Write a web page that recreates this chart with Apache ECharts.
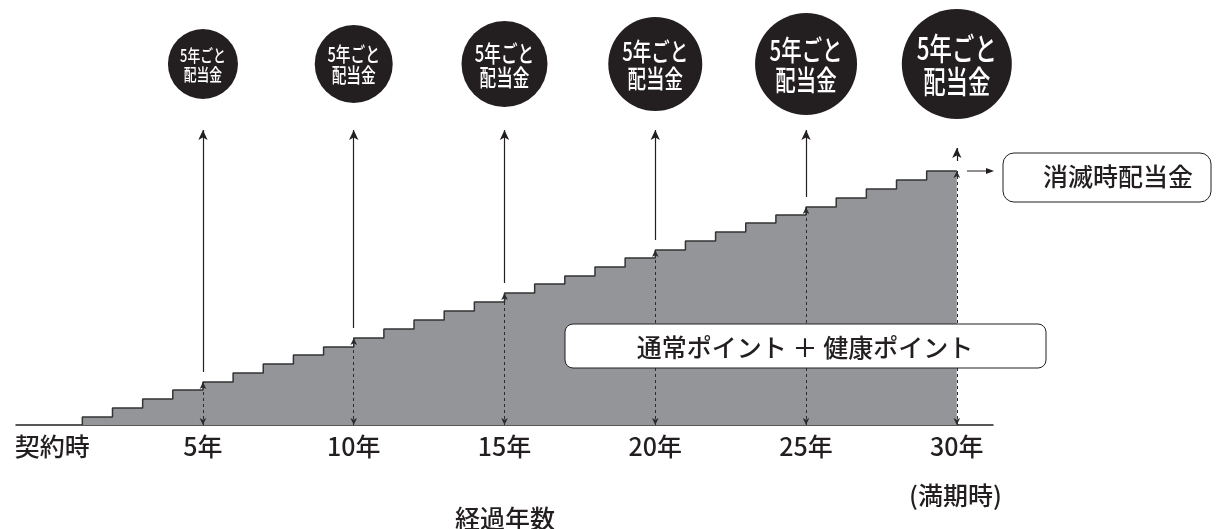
<!DOCTYPE html>
<html>
<head>
<meta charset="utf-8">
<script src="https://cdn.jsdelivr.net/npm/echarts@6/dist/echarts.min.js"></script>
<style>
html,body{margin:0;padding:0;background:#fff;}
#c{width:1222px;height:529px;}
</style>
</head>
<body>
<div id="c"></div>
<script>
// ---- data ----
const stepYears = [1,2,3,4,5,6,7,8,9,10,11,12,13,14,15,16,17,18,19,20,21,22,23,24,25,26,27,28,29];
const stepValues = [8,17,26,35,43,52,61,70,78,87,96,105,114,123,132,141,149,158,167,175,184,193,202,210,218,227,236,245,254];
const endYear = 30;
const tickYears = [0,5,10,15,20,25,30];
const tickLabels = ['契約時','5年','10年','15年','20年','25年','30年'];
const dividendYears = [5,10,15,20,25,30];
const badgeLevel = 361;
const badgeText = '5年ごと\n配当金';
const xAxisName = '経過年数';
const maturityNote = '(満期時)';
const terminalLabel = '消滅時配当金';
const pointsLabel = '通常ポイント ＋ 健康ポイント';

// ---- derived ----
function valueAt(year){
  let v = 0;
  for (let i = 0; i < stepYears.length; i++) if (stepYears[i] <= year) v = stepValues[i];
  return v;
}
const lineData = [[stepYears[0], 0]];
stepYears.forEach((y, i) => lineData.push([y, stepValues[i]]));
lineData.push([endYear, stepValues[stepValues.length - 1]]);

const FONT = '"Noto Sans CJK JP", "Noto Sans", sans-serif';
const INK = '#231f20';

const dashedLines = dividendYears.map(y => [
  {coord: [y, 0]}, {coord: [y, valueAt(y)]}
]);
const solidArrows = dividendYears.map(y => [
  {coord: [y, valueAt(y) + 10]}, {coord: [y, y === endYear ? 277 : 295]}
]);

const chart = echarts.init(document.getElementById('c'));
chart.setOption({
  animation: false,
  grid: {left: 16, right: 229, top: 0, bottom: 104},
  xAxis: {
    type: 'value', min: -1.2, max: 31.2,
    splitLine: {show: false},
    axisTick: {show: false},
    axisLine: {show: true, lineStyle: {color: INK, width: 1.5}},
    axisLabel: {
      customValues: tickYears,
      margin: 9,
      color: INK,
      fontSize: 25,
      fontWeight: 500,
      fontFamily: FONT,
      formatter: v => tickLabels[tickYears.indexOf(v)]
    }
  },
  yAxis: {type: 'value', min: 0, max: 425, show: false, splitLine: {show: false}},
  series: [
    {
      type: 'line',
      step: 'end',
      data: lineData,
      symbol: 'none',
      lineStyle: {color: '#333', width: 1.5},
      areaStyle: {color: '#939598', opacity: 1, origin: 'start'},
      z: 2
    },
    {
      type: 'line', data: [], symbol: 'none', z: 4,
      markLine: {
        silent: true, animation: false,
        label: {show: false},
        symbol: ['arrow', 'arrow'],
        symbolSize: [5, 7],
        lineStyle: {color: '#2b2b2b', width: 1, type: [3, 3]},
        data: dashedLines
      }
    },
    {
      type: 'line', data: [], symbol: 'none', z: 4,
      markLine: {
        silent: true, animation: false,
        label: {show: false},
        symbol: ['none', 'arrow'],
        symbolSize: [7, 10],
        lineStyle: {color: INK, width: 1.2, type: 'solid'},
        data: solidArrows
      }
    },
    {
      type: 'custom',
      z: 5,
      data: dividendYears.map(y => [y, badgeLevel]),
      renderItem: function (params, api) {
        const i = params.dataIndex;
        const p = api.coord([api.value(0), api.value(1)]);
        const d = 70 + 8 * i;
        const fs = 16 + 2.4 * i;
        return {
          type: 'group',
          children: [
            {type: 'circle', shape: {cx: p[0], cy: p[1], r: d / 2}, style: {fill: INK}},
            {type: 'text', x: p[0], y: p[1] + 1, scaleX: 0.8, scaleY: 1.1,
             style: {text: badgeText, fill: '#fff', font: '500 ' + fs + 'px ' + FONT,
                     align: 'center', verticalAlign: 'middle', lineHeight: fs * 1.06}}
          ]
        };
      }
    }
  ],
  graphic: [
    {type: 'text', left: 957 - 48, top: 483,
     style: {text: maturityNote, fill: INK, font: '500 25px ' + FONT}},
    {type: 'text', x: 505, y: 518,
     style: {text: xAxisName, fill: INK, font: '500 25px ' + FONT, align: 'center', verticalAlign: 'middle'}},
    {type: 'rect', shape: {x: 1003, y: 153, width: 208, height: 49, r: 11},
     style: {fill: '#fff', stroke: INK, lineWidth: 1}},
    {type: 'text', x: 1118, y: 176,
     style: {text: terminalLabel, fill: INK, font: '500 25px ' + FONT, align: 'center', verticalAlign: 'middle'}},
    {type: 'line', shape: {x1: 967, y1: 171, x2: 988, y2: 171}, style: {stroke: INK, lineWidth: 1}},
    {type: 'polygon', shape: {points: [[994, 171], [986, 168], [986, 174]]}, style: {fill: INK}},
    {type: 'rect', z: 10, shape: {x: 565, y: 324, width: 481, height: 44, r: 8},
     style: {fill: '#fff', stroke: INK, lineWidth: 1}},
    {type: 'text', z: 11, x: 805, y: 347,
     style: {text: pointsLabel, fill: INK, font: '500 25px ' + FONT, align: 'center', verticalAlign: 'middle'}}
  ]
});
</script>
</body>
</html>
